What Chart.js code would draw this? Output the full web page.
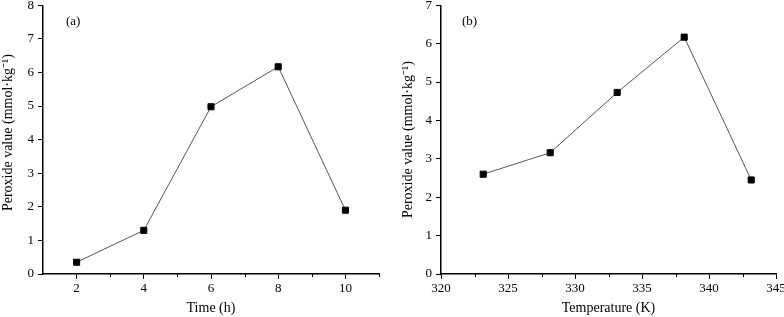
<!DOCTYPE html>
<html>
<head>
<meta charset="utf-8">
<script src="https://cdn.jsdelivr.net/npm/chart.js@4/dist/chart.umd.min.js"></script>
<style>
  html, body { margin: 0; padding: 0; background: #fff; }
  #wrap { position: relative; width: 784px; height: 317px; }
  .panel { position: absolute; top: 0; width: 392px; height: 317px; }
  #pa { left: 0; }
  #pb { left: 392px; }
</style>
</head>
<body>
<div id="wrap">
  <div class="panel" id="pa"><canvas id="ca"></canvas></div>
  <div class="panel" id="pb"><canvas id="cb"></canvas></div>
</div>
<script>
// ---- Data ----
const timeH = [2, 4, 6, 8, 10];
const pvTime = [0.35, 1.30, 4.98, 6.17, 1.90];

const tempK = [323.15, 328.15, 333.15, 338.15, 343.15];
const pvTemp = [2.60, 3.16, 4.73, 6.17, 2.45];

// ---- Tick labels ----
const timeTicks = [2, 4, 6, 8, 10];
const timeMinorTicks = [3, 5, 7, 9, 11];
const tempTicks = [320, 325, 330, 335, 340, 345];
const tempMinorTicks = [322.5, 327.5, 332.5, 337.5, 342.5];
const pvTicksA = [0, 1, 2, 3, 4, 5, 6, 7, 8];
const pvTicksB = [0, 1, 2, 3, 4, 5, 6, 7];

const xTitleA = 'Time (h)';
const xTitleB = 'Temperature (K)';
const yTitle = 'Peroxide value (mmol\u00B7kg\u207B\u00B9)';
const panelLabelA = '(a)';
const panelLabelB = '(b)';

const FONT = "'Liberation Serif', 'Times New Roman', serif";

const minorTickPlugin = {
  id: 'minorTicks',
  afterDraw(chart, args, opts) {
    const ctx = chart.ctx;
    const xs = chart.scales.x;
    ctx.save();
    ctx.strokeStyle = '#000';
    ctx.lineWidth = 1;
    (opts.values || []).forEach(v => {
      const px = Math.round(xs.getPixelForValue(v)) + 0.5;
      ctx.beginPath();
      ctx.moveTo(px, xs.top);
      ctx.lineTo(px, xs.top + 3);
      ctx.stroke();
    });
    if (opts.label) {
      ctx.font = '13px ' + FONT;
      ctx.fillStyle = '#000';
      ctx.textBaseline = 'middle';
      ctx.textAlign = 'left';
      ctx.fillText(opts.label, chart.chartArea.left + opts.dx, chart.chartArea.top + opts.dy);
    }
    ctx.restore();
  }
};

function makeChart(canvasId, xs, ys, cfg) {
  const pts = xs.map((x, i) => ({ x: x, y: ys[i] }));
  return new Chart(document.getElementById(canvasId), {
    type: 'scatter',
    data: {
      datasets: [{
        data: pts,
        showLine: true,
        borderColor: '#555',
        borderWidth: 1,
        pointStyle: 'rect',
        pointRadius: 4.3,
        pointBorderWidth: 1,
        pointBackgroundColor: '#000',
        pointBorderColor: '#000',
        tension: 0
      }]
    },
    plugins: [minorTickPlugin],
    options: {
      responsive: true,
      maintainAspectRatio: false,
      animation: false,
      events: [],
      layout: { padding: { left: cfg.padLeft, top: 4, right: cfg.padRight, bottom: 0 } },
      plugins: {
        legend: { display: false },
        tooltip: { enabled: false },
        minorTicks: { values: cfg.minor, label: cfg.label, dx: cfg.labelDx, dy: 16 }
      },
      scales: {
        x: {
          type: 'linear',
          min: cfg.xMin,
          max: cfg.xMax,
          afterBuildTicks: s => { s.ticks = cfg.xTicks.map(v => ({ value: v })); },
          afterFit: s => { s.height = 43; s.paddingLeft = 0; s.paddingRight = 0; },
          grid: { drawOnChartArea: false, drawTicks: true, tickLength: 5, tickColor: '#000', tickWidth: 1 },
          border: { display: true, color: '#000', width: 1.5 },
          ticks: { color: '#000', padding: 2, maxRotation: 0, autoSkip: false, font: { family: FONT, size: 13 } },
          title: { display: true, text: cfg.xTitle, color: '#000', padding: { top: 0, bottom: 0 }, font: { family: FONT, size: 14 } }
        },
        y: {
          type: 'linear',
          min: 0,
          max: cfg.yMax,
          afterBuildTicks: s => { s.ticks = cfg.yTicks.map(v => ({ value: v })); },
          afterFit: s => { s.width = cfg.yWidth; s.paddingTop = 0; s.paddingBottom = 0; },
          grid: { drawOnChartArea: false, drawTicks: true, tickLength: 5, tickColor: '#000', tickWidth: 1 },
          border: { display: true, color: '#000', width: 1.5 },
          ticks: { color: '#000', padding: 4, font: { family: FONT, size: 13 } },
          title: { display: true, text: cfg.yTitle, color: '#000', padding: { top: 0, bottom: 0 }, font: { family: FONT, size: 14 } }
        }
      }
    }
  });
}

makeChart('ca', timeH, pvTime, {
  padLeft: 0, padRight: 13, yWidth: 43,
  xMin: 1, xMax: 11, xTicks: timeTicks, minor: timeMinorTicks,
  yMax: 8, yTicks: pvTicksA,
  xTitle: xTitleA, yTitle: '\u2002\u2002' + yTitle,
  label: panelLabelA, labelDx: 23
});

makeChart('cb', tempK, pvTemp, {
  padLeft: 8, padRight: 8, yWidth: 41,
  xMin: 320, xMax: 345, xTicks: tempTicks, minor: tempMinorTicks,
  yMax: 7, yTicks: pvTicksB,
  xTitle: xTitleB, yTitle: yTitle,
  label: panelLabelB, labelDx: 21
});
</script>
</body>
</html>
